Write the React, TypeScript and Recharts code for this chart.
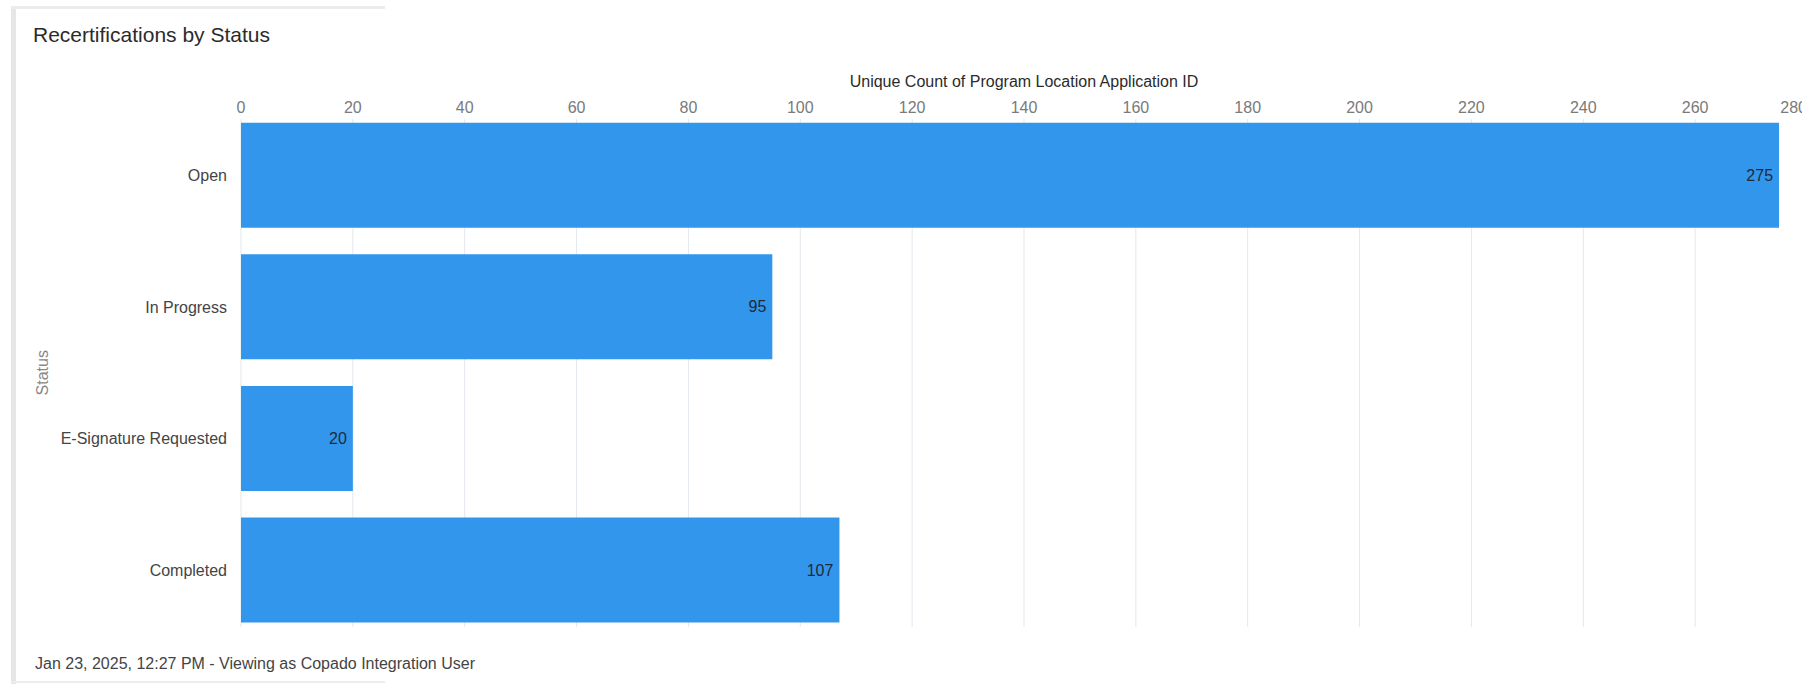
import React from "react";
import { BarChart, Bar, XAxis, YAxis, CartesianGrid, LabelList } from "recharts";

const STATUSES = ["Open", "In Progress", "E-Signature Requested", "Completed"];
const COUNTS = [275, 95, 20, 107];
const X_TICKS = [0, 20, 40, 60, 80, 100, 120, 140, 160, 180, 200, 220, 240, 260, 280];

const BAR_COLOR = "#3296ed";
const GRID_COLOR = "#e3e8ef";
const FONT = '"Liberation Sans", Arial, sans-serif';

const data = STATUSES.map((status, i) => ({ status, count: COUNTS[i] }));

function XTick(props: any) {
  const { x, y, payload } = props;
  const last = payload.value === X_TICKS[X_TICKS.length - 1];
  return (
    <text x={x} y={y + 3} textAnchor={last ? "end" : "middle"} fill="#7a7a7a" fontSize={16} fontFamily={FONT}>
      {payload.value}
    </text>
  );
}

// grid lines stop a few px short of the plot edges, like the original
function GridLine(props: any) {
  const { x1, x2, y1, y2, index } = props;
  return <line key={`g-${index}-${x1}`} x1={x1} x2={x2} y1={y1 + 9.5} y2={y2 - 9} stroke={GRID_COLOR} strokeWidth={1} />;
}

export default function App() {
  return (
    <div style={{ position: "absolute", left: 0, top: 0, width: 1802, height: 684, overflow: "hidden", background: "#fff", fontFamily: FONT }}>
      {/* card edges */}
      <div style={{ position: "absolute", left: 11, top: 6, width: 5, height: 678, background: "#e6e6e6" }} />
      <div style={{ position: "absolute", left: 11, top: 6, width: 374, height: 3, background: "#ececec" }} />
      <div style={{ position: "absolute", left: 11, top: 681, width: 374, height: 2, background: "#ececec" }} />

      <div style={{ position: "absolute", left: 33, top: 23, fontSize: 21, color: "#2b2b2b", whiteSpace: "nowrap" }}>
        Recertifications by Status
      </div>

      <div style={{ position: "absolute", left: 0, top: 0 }}>
        <BarChart
          width={1827}
          height={684}
          data={data}
          layout="vertical"
          barCategoryGap="10%"
          margin={{ top: 87.5, right: 20, bottom: 48, left: 0 }}
        >
          <CartesianGrid horizontal={false} vertical={GridLine} />
          <XAxis
            type="number"
            orientation="top"
            domain={[0, 280]}
            ticks={X_TICKS}
            interval={0}
            height={22}
            axisLine={false}
            tickLine={false}
            tickSize={0}
            tickMargin={0}
            tick={XTick}
            label={{
              value: "Unique Count of Program Location Application ID",
              position: "top",
              offset: 1,
              fill: "#2b2b2b",
              fontSize: 16,
              fontFamily: FONT,
            }}
          />
          <YAxis
            type="category"
            dataKey="status"
            width={241}
            axisLine={false}
            tickLine={false}
            tickSize={0}
            tickMargin={14}
            tick={{ fill: "#444", fontSize: 16, fontFamily: FONT }}
            label={{
              value: "Status",
              angle: -90,
              position: "insideLeft",
              offset: 42,
              textAnchor: "middle",
              fill: "#888",
              fontSize: 16,
              fontFamily: FONT,
            }}
          />
          <Bar dataKey="count" fill={BAR_COLOR} isAnimationActive={false}>
            <LabelList dataKey="count" position="insideRight" offset={6} fill="#1f2a36" fontSize={16} fontFamily={FONT} />
          </Bar>
        </BarChart>
      </div>

      <div style={{ position: "absolute", left: 35, top: 655, fontSize: 16, color: "#444", whiteSpace: "nowrap" }}>
        Jan 23, 2025, 12:27 PM - Viewing as Copado Integration User
      </div>
    </div>
  );
}
